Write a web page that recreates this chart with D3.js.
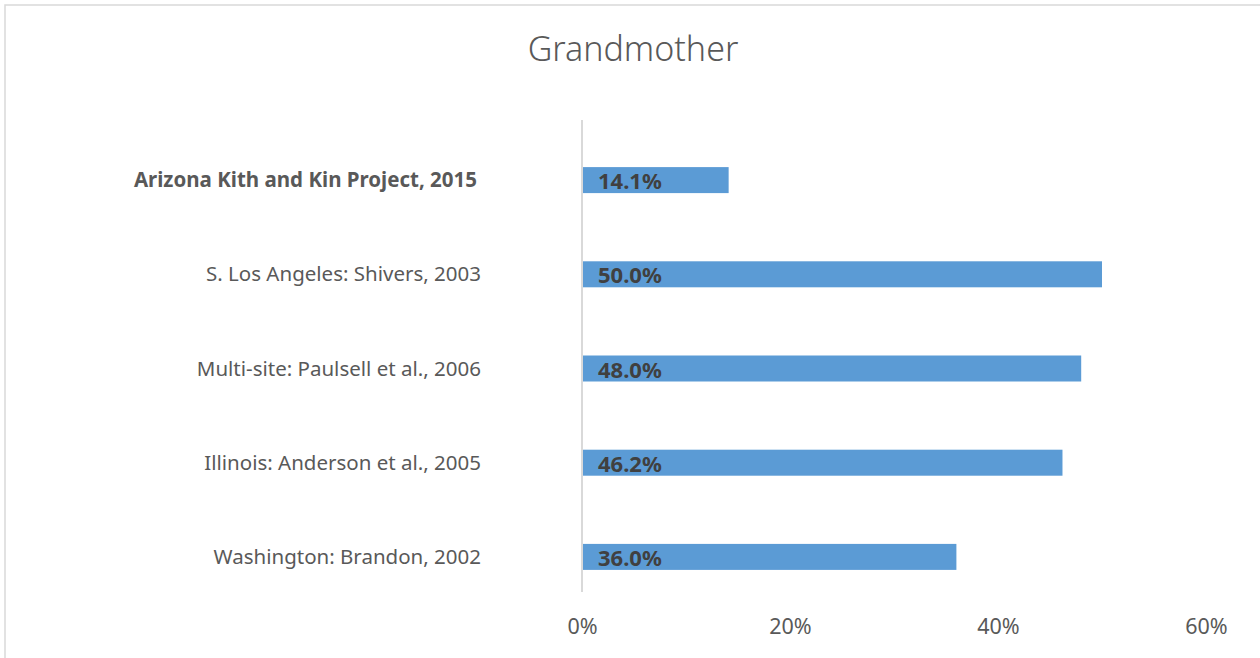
<!DOCTYPE html>
<html>
<head>
<meta charset="utf-8">
<script src="https://cdn.jsdelivr.net/npm/d3@7"></script>
<style>
  body { margin: 0; background: #fff; }
  text { font-family: "Noto Sans", "Open Sans", sans-serif; }
</style>
</head>
<body>
<script>
// Chart data
var categories = [
  "Arizona Kith and Kin Project, 2015",
  "S. Los Angeles: Shivers, 2003",
  "Multi-site: Paulsell et al., 2006",
  "Illinois: Anderson et al., 2005",
  "Washington: Brandon, 2002"
];
var values = [14.1, 50.0, 48.0, 46.2, 36.0];
var tickValues = [0, 20, 40, 60];
var title = "Grandmother";

// SVG area
var svgWidth = 1260;
var svgHeight = 658;

var svg = d3.select("body")
  .append("svg")
  .attr("width", svgWidth)
  .attr("height", svgHeight);

// chart frame
svg.append("rect")
  .attr("x", 5)
  .attr("y", 5)
  .attr("width", svgWidth)
  .attr("height", svgHeight)
  .attr("fill", "none")
  .attr("stroke", "#d9d9d9")
  .attr("stroke-width", 1.5);

// title
svg.append("text")
  .attr("x", 633)
  .attr("y", 61)
  .attr("text-anchor", "middle")
  .attr("font-size", 34)
  .attr("font-weight", 300)
  .attr("fill", "#595959")
  .text(title);

// scales
var xScale = d3.scaleLinear()
  .domain([0, 60])
  .range([582, 1206]);

var yScale = d3.scaleBand()
  .domain(categories)
  .range([133, 604])
  .paddingInner(0.724)
  .paddingOuter(0.362);

// bars
svg.selectAll(".bar")
  .data(values)
  .enter()
  .append("rect")
  .classed("bar", true)
  .attr("x", xScale(0))
  .attr("y", (d, i) => yScale(categories[i]))
  .attr("width", d => xScale(d) - xScale(0))
  .attr("height", yScale.bandwidth())
  .attr("fill", "#5b9bd5");

// value labels
svg.selectAll(".value")
  .data(values)
  .enter()
  .append("text")
  .classed("value", true)
  .attr("x", xScale(0) + 16)
  .attr("y", (d, i) => yScale(categories[i]) + yScale.bandwidth() / 2 + 9)
  .attr("font-size", 22)
  .attr("font-weight", "bold")
  .attr("fill", "#404040")
  .text(d => d.toFixed(1) + "%");

// category axis (left)
var yAxis = d3.axisLeft(yScale).tickSize(0).tickPadding(0);
var yAxisGroup = svg.append("g")
  .attr("transform", "translate(481, 0)")
  .call(yAxis);
yAxisGroup.select(".domain").remove();
yAxisGroup.selectAll("text")
  .attr("font-size", 20.5)
  .attr("fill", "#595959")
  .attr("font-family", "Noto Sans, Open Sans, sans-serif")
  .attr("font-weight", (d, i) => i === 0 ? "bold" : "normal")
  .attr("dx", (d, i) => i === 0 ? -4 : 0)
  .attr("dy", "0.35em");

// vertical axis line at zero
svg.append("line")
  .attr("x1", xScale(0))
  .attr("x2", xScale(0))
  .attr("y1", 120)
  .attr("y2", 592)
  .attr("stroke", "#d9d9d9")
  .attr("stroke-width", 2);

// value axis (bottom)
var xAxis = d3.axisBottom(xScale)
  .tickValues(tickValues)
  .tickSize(0)
  .tickPadding(0)
  .tickFormat(d => d + "%");
var xAxisGroup = svg.append("g")
  .attr("transform", "translate(0, 619)")
  .call(xAxis);
xAxisGroup.select(".domain").remove();
xAxisGroup.selectAll("text")
  .attr("font-size", 21.5)
  .attr("fill", "#595959")
  .attr("font-family", "Noto Sans, Open Sans, sans-serif");
</script>
</body>
</html>
